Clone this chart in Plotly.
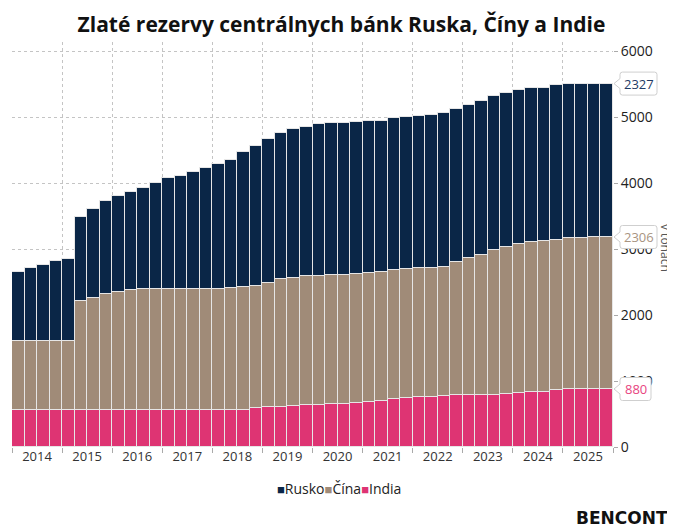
import plotly.graph_objects as go

# ---- data (tonnes, end of quarter, 2014Q1 .. 2025Q4) ----
years = list(range(2014, 2026))
quarters = [(y, q) for y in years for q in (1, 2, 3, 4)]

india = [558, 558, 558, 558, 558, 558, 558, 558, 558, 558, 558, 558,
         558, 558, 558, 558, 558, 561, 566, 587, 608, 613, 618, 633,
         642, 653, 658, 668, 688, 698, 734, 744, 754, 760, 780, 782,
         784, 787, 792, 797, 812, 832, 842, 867, 876, 879, 880, 880]

china = [1054, 1054, 1054, 1054, 1054, 1658, 1709, 1762, 1798, 1823, 1838, 1842,
         1842, 1842, 1842, 1842, 1842, 1845, 1855, 1860, 1884, 1935, 1950, 1956,
         1957, 1956, 1956, 1956, 1956, 1957, 1956, 1956, 1956, 1955, 1956, 2019,
         2078, 2126, 2202, 2243, 2273, 2273, 2279, 2279, 2290, 2297, 2301, 2306]

russia = [1043, 1099, 1155, 1211, 1241, 1271, 1348, 1414, 1459, 1494, 1535, 1611,
          1677, 1713, 1778, 1839, 1890, 1951, 2047, 2122, 2184, 2209, 2250, 2269,
          2305, 2305, 2305, 2305, 2300, 2294, 2305, 2305, 2310, 2325, 2330, 2331,
          2325, 2330, 2330, 2335, 2330, 2336, 2330, 2340, 2341, 2336, 2331, 2327]

series_names = ["India", "Čína", "Rusko"]
colors = {"Rusko": "#0a2647", "Čína": "#a08b78", "India": "#de3473"}
label_colors = {"Rusko": "#1f3b66", "Čína": "#a89482", "India": "#e8457f"}
year_labels = [str(y) for y in years]
y_ticks = [0, 1000, 2000, 3000, 4000, 5000, 6000]

# x position of each quarter bar (centre), derived from the period categories
xq = [y + (q - 0.5) / 4 for (y, q) in quarters]

FONT = "Open Sans"
W, H = 667, 521  # page body has an 8px margin

fig = go.Figure()
for name, vals in zip(series_names, [india, china, russia]):
    fig.add_trace(go.Bar(
        x=xq, y=vals, name=name, width=0.25,
        marker=dict(color=colors[name], line=dict(color="#e6e6e6", width=1)),
        showlegend=False,
    ))

fig.update_layout(
    barmode="stack",
    bargap=0,
    width=W, height=H,
    margin=dict(l=4, r=62, t=34, b=82),
    paper_bgcolor="white", plot_bgcolor="white",
    font=dict(family=FONT, color="#222"),
    title=dict(text="<b>Zlaté rezervy centrálnych bánk Ruska, Číny a Indie</b>",
               x=0.5, xanchor="center", y=1 - 17 / H, yanchor="middle",
               font=dict(family=FONT, size=21, color="#111")),
)

fig.update_xaxes(
    range=[2014, 2026],
    tickmode="array",
    tickvals=[y + 0.5 for y in years],
    ticktext=year_labels,
    ticks="",
    showgrid=False,
    zeroline=False,
    tickfont=dict(size=13, color="#333"),
    showline=False,
    minor=dict(tick0=2014, dtick=1, ticks="outside", ticklen=5, tickcolor="#aaa",
               showgrid=True, gridcolor="#c4c4c4", griddash="dot", gridwidth=1),
)

fig.update_yaxes(
    side="right",
    range=[0, 6144],
    tickvals=y_ticks,
    ticktext=[str(v) for v in y_ticks],
    ticks="outside", ticklen=4, tickcolor="#aaa",
    showgrid=True, gridcolor="#c4c4c4", griddash="dot", gridwidth=1,
    zeroline=False,
    tickfont=dict(size=14, color="#222"),
)

# end-value callouts
ends = [("Rusko", india[-1] + china[-1] + russia[-1], russia[-1]),
        ("Čína", india[-1] + china[-1], china[-1]),
        ("India", india[-1], india[-1])]
for name, ypos, val in ends:
    txt = str(val)
    w = 37 if len(txt) >= 4 else 31
    L, R, h, r = 7, 7 + w, 11.5, 2.5
    path = (f"M1,0 L{L},-5 L{L},{-h + r} Q{L},{-h} {L + r},{-h} L{R - r},{-h} "
            f"Q{R},{-h} {R},{-h + r} L{R},{h - r} Q{R},{h} {R - r},{h} L{L + r},{h} "
            f"Q{L},{h} {L},{h - r} L{L},5 Z")
    fig.add_shape(type="path", xref="paper", yref="y", xsizemode="pixel", ysizemode="pixel",
                  xanchor=1, yanchor=ypos, path=path,
                  line=dict(color="#cfcfcf", width=1), fillcolor="white", layer="above")
    fig.add_annotation(x=1, y=ypos, xref="paper", yref="y", text=txt, showarrow=False,
                       xanchor="center", yanchor="middle", xshift=L + w / 2,
                       font=dict(family=FONT, size=13, color=label_colors[name]))

# axis title
fig.add_annotation(xref="paper", yref="paper", x=(666 - 12) / 601, y=(447 - 248) / 405,
                   text="v tonách", textangle=90, showarrow=False,
                   font=dict(family=FONT, size=12, color="#555"),
                   xanchor="center", yanchor="middle")

# legend (custom, compact)
leg = "".join(
    f"<span style='color:{colors[n]};font-size:13px'>■</span>{n}"
    for n in ["Rusko", "Čína", "India"]
)
fig.add_annotation(xref="paper", yref="paper", x=(338.5 - 12) / 601, y=(447 - 488) / 405,
                   text=leg, showarrow=False, xanchor="center", yanchor="middle",
                   font=dict(family=FONT, size=14, color="#222"))

# logo text
fig.add_annotation(xref="paper", yref="paper", x=(670 - 12) / 601, y=(447 - 518) / 405,
                   text="<b>BENCONT</b>", showarrow=False, xanchor="right", yanchor="middle",
                   font=dict(family="DejaVu Sans", size=17, color="#111"))

fig.write_html("out.html")
